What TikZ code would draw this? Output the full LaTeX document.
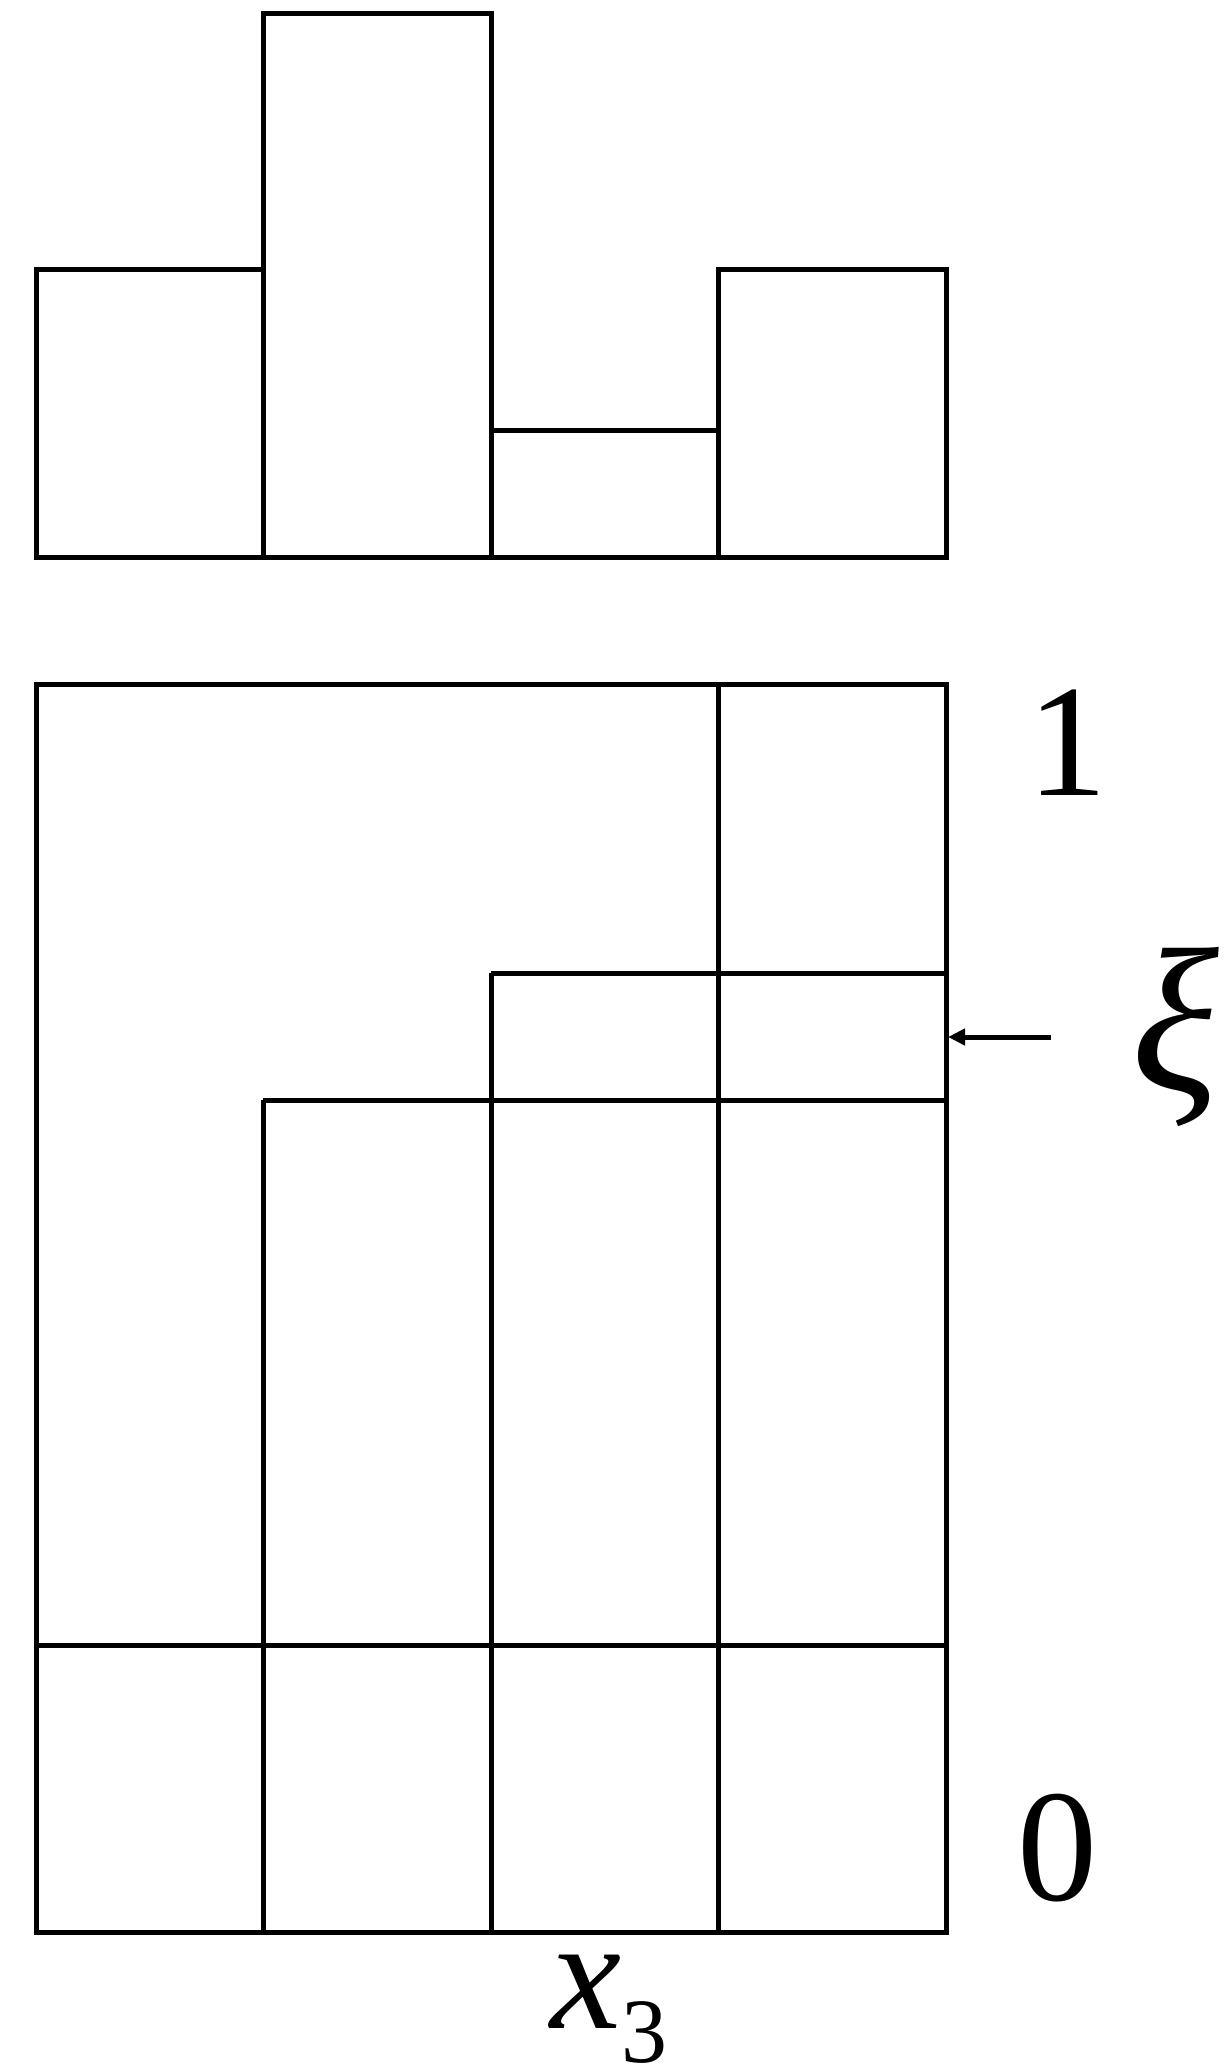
\documentclass[tikz,border=0pt]{standalone}
\usepackage{fontspec}
\setmainfont{Liberation Serif}
\usetikzlibrary{arrows.meta}
\begin{document}
\begin{tikzpicture}[x=1pt,y=-1pt,
  bar/.style={draw=black,line width=5pt,line join=miter},
  lbl/.style={inner sep=0pt,font=\fontsize{160}{180}\selectfont},
  pointer/.style={line width=5pt,-{Triangle[length=17pt,width=16pt]}}]
\useasboundingbox (0,0) rectangle (1230,2072);
% top histogram
\draw[bar] (36,269) rectangle (263,557);
\draw[bar] (263,13) rectangle (491,557);
\draw[bar] (491,430) rectangle (718,557);
\draw[bar] (718,269) rectangle (946,557);
% bottom chart
\draw[bar] (36,684) rectangle (946,1932);
\draw[bar] (36,1645) -- (946,1645);
\draw[bar] (263,1100) -- (263,1932);
\draw[bar] (491,973) -- (491,1932);
\draw[bar] (718,684) -- (718,1932);
\draw[bar] (263,1100) -- (946,1100);
\draw[bar] (491,973) -- (946,973);
% labels
\node[lbl,anchor=base] (one) at (1067,795) {1};
\node[lbl,anchor=base] (zero) at (1057,1900) {0};
\node[lbl,anchor=center,font=\fontsize{205}{220}\selectfont] (xi) at (1175,1037) {\itshape ξ};
\node[lbl,anchor=base] (xlab) at (609,2028) {\itshape x\raisebox{-34pt}{\upshape\fontsize{92}{100}\selectfont 3}};
\coordinate (arrS) at (1051,1037);
\coordinate (arrE) at (948,1037);
\draw[pointer] (arrS) -- (arrE);
\end{tikzpicture}
\end{document}
